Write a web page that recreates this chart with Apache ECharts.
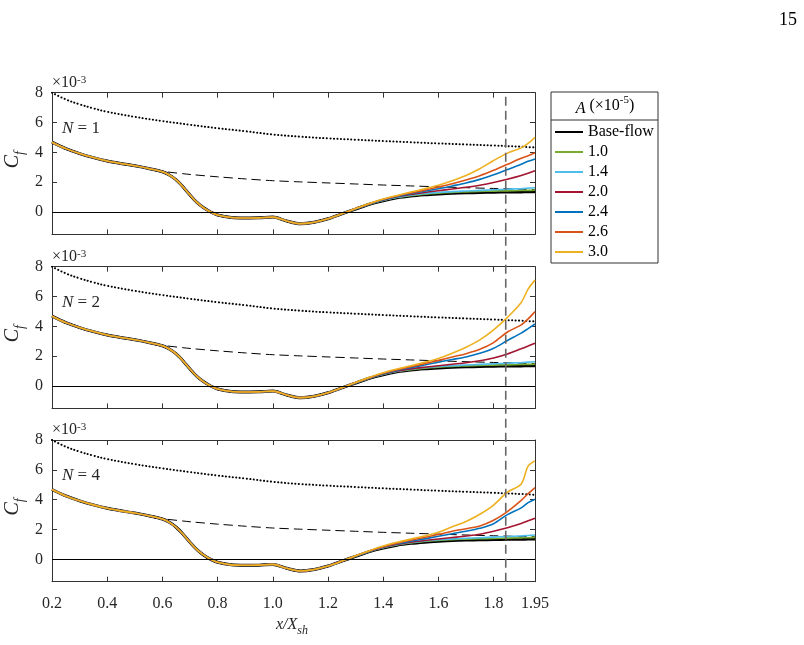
<!DOCTYPE html>
<html>
<head>
<meta charset="utf-8">
<script src="https://cdn.jsdelivr.net/npm/echarts@6/dist/echarts.min.js"></script>
<style>
  html, body { margin: 0; padding: 0; background: #fff; }
  #chart { width: 804px; height: 645px; }
</style>
</head>
<body>
<div id="chart"></div>
<script>
// solid curves: identical up to x = 1.25 for every amplitude
const headX = [0.2, 0.25, 0.3, 0.35, 0.4, 0.45, 0.5, 0.55, 0.6, 0.625, 0.65, 0.675, 0.7, 0.725, 0.75, 0.775, 0.8, 0.85, 0.9, 0.95, 1.0, 1.05, 1.1, 1.15, 1.2, 1.25];
const baseHead = [4.68, 4.25, 3.92, 3.65, 3.42, 3.25, 3.1, 2.92, 2.7, 2.48, 2.15, 1.68, 1.14, 0.65, 0.28, 0.0, -0.2, -0.37, -0.4, -0.39, -0.34, -0.6, -0.78, -0.68, -0.45, -0.12];

// tail where the curves split
const tailX = [1.3, 1.35, 1.4, 1.45, 1.5, 1.55, 1.6, 1.65, 1.7, 1.75, 1.8, 1.85, 1.9, 1.925, 1.95];
const baseTail = [0.2, 0.52, 0.76, 0.95, 1.07, 1.15, 1.21, 1.26, 1.29, 1.31, 1.33, 1.34, 1.35, 1.355, 1.36];
const a10Tail = [0.21, 0.53, 0.78, 0.97, 1.1, 1.2, 1.27, 1.32, 1.35, 1.38, 1.4, 1.42, 1.44, 1.45, 1.47];
const a14Tail = [0.21, 0.53, 0.79, 0.99, 1.13, 1.24, 1.31, 1.37, 1.41, 1.45, 1.49, 1.53, 1.57, 1.6, 1.63];

// N = 1
const n1A20 = [0.22, 0.54, 0.81, 1.02, 1.18, 1.31, 1.43, 1.54, 1.66, 1.8, 1.98, 2.2, 2.45, 2.6, 2.77];
const n1A24 = [0.22, 0.55, 0.83, 1.05, 1.23, 1.39, 1.56, 1.75, 1.95, 2.19, 2.5, 2.85, 3.2, 3.4, 3.56];
const n1A26 = [0.23, 0.56, 0.85, 1.08, 1.28, 1.47, 1.68, 1.9, 2.15, 2.44, 2.8, 3.2, 3.6, 3.78, 3.97];
const n1A30 = [0.23, 0.57, 0.87, 1.11, 1.34, 1.56, 1.8, 2.1, 2.45, 2.9, 3.45, 3.95, 4.3, 4.6, 5.0];
// N = 2
const n2A20 = [0.22, 0.54, 0.81, 1.01, 1.15, 1.26, 1.36, 1.46, 1.56, 1.7, 1.88, 2.15, 2.5, 2.68, 2.87];
const n2A24 = [0.22, 0.55, 0.83, 1.05, 1.23, 1.41, 1.6, 1.78, 1.95, 2.19, 2.53, 3.05, 3.55, 3.85, 4.16];
const n2A26 = [0.23, 0.56, 0.85, 1.09, 1.3, 1.5, 1.72, 1.95, 2.17, 2.46, 2.91, 3.62, 4.1, 4.5, 4.99];
const n2A30 = [0.24, 0.58, 0.89, 1.14, 1.36, 1.6, 1.85, 2.2, 2.6, 3.09, 3.76, 4.6, 5.6, 6.5, 7.1];
// N = 4
const n4A20 = [0.22, 0.54, 0.81, 1.01, 1.15, 1.26, 1.36, 1.46, 1.56, 1.68, 1.88, 2.12, 2.4, 2.58, 2.75];
const n4A24 = [0.22, 0.55, 0.83, 1.04, 1.21, 1.37, 1.55, 1.72, 1.88, 2.08, 2.39, 3.0, 3.45, 3.8, 4.03];
const n4A26 = [0.23, 0.56, 0.85, 1.08, 1.28, 1.47, 1.66, 1.88, 2.05, 2.24, 2.62, 3.2, 3.95, 4.4, 4.81];
const n4A30 = [0.24, 0.58, 0.89, 1.14, 1.36, 1.57, 1.82, 2.18, 2.53, 3.02, 3.64, 4.5, 5.05, 6.25, 6.6];

// turbulent (dotted) and laminar (dashed) correlations
const dottedX = [0.2, 0.25, 0.3, 0.35, 0.4, 0.5, 0.6, 0.7, 0.8, 0.9, 1.0, 1.1, 1.2, 1.3, 1.4, 1.5, 1.6, 1.7, 1.8, 1.9, 1.95];
const dottedY = [8.0, 7.55, 7.22, 6.95, 6.72, 6.38, 6.1, 5.85, 5.62, 5.42, 5.2, 5.05, 4.94, 4.85, 4.76, 4.68, 4.6, 4.53, 4.46, 4.38, 4.33];
const dashedX = [0.57, 0.6, 0.7, 0.8, 0.9, 1.0, 1.1, 1.2, 1.3, 1.4, 1.5, 1.6, 1.7, 1.8, 1.9, 1.95];
const dashedY = [2.78, 2.72, 2.52, 2.36, 2.22, 2.1, 2.02, 1.95, 1.88, 1.81, 1.75, 1.69, 1.63, 1.58, 1.53, 1.51];

const markerX = 1.844;
const xTicks = [0.2, 0.4, 0.6, 0.8, 1.0, 1.2, 1.4, 1.6, 1.8, 1.95];
const yTicks = [0, 2, 4, 6, 8];
const names = ['Base-flow', '1.0', '1.4', '2.0', '2.4', '2.6', '3.0'];
const colors = ['#000000', '#77AC30', '#4DBEEE', '#A2142F', '#0072BD', '#D95319', '#EDB120'];
const panelN = [1, 2, 4];
const panelTails = [
  [baseTail, a10Tail, a14Tail, n1A20, n1A24, n1A26, n1A30],
  [baseTail, a10Tail, a14Tail, n2A20, n2A24, n2A26, n2A30],
  [baseTail, a10Tail, a14Tail, n4A20, n4A24, n4A26, n4A30],
];

const FONT = '"Liberation Serif", "Times New Roman", serif';
const AX = '#333333';
const TXT = '#262626';
const tops = [92.7, 266.7, 440];
const H = 141.7, L = 52, W = 483;

const zip = (xs, ys) => xs.map((x, i) => [x, ys[i]]);

const chart = echarts.init(document.getElementById('chart'));

const grid = tops.map(t => ({ left: L, top: t, width: W, height: H, outerBoundsMode: 'none' }));
grid.push({ left: L, top: tops[0], width: W, height: tops[2] + H - tops[0], outerBoundsMode: 'none' });

const xAxis = [], yAxis = [], series = [], graphic = [];

tops.forEach((t, p) => {
  ['bottom', 'top'].forEach(pos => {
    xAxis.push({
      type: 'value', gridIndex: p, position: pos, min: 0.2, max: 1.95,
      axisLine: { show: true, onZero: false, lineStyle: { color: AX, width: 1 } },
      axisTick: { show: true, inside: true, length: 5, customValues: xTicks, lineStyle: { color: AX } },
      axisLabel: {
        show: pos === 'bottom' && p === 2, customValues: xTicks, margin: 14,
        fontSize: 16, fontFamily: FONT, color: TXT,
        formatter: v => (Math.abs(v - 1.95) < 1e-6 ? '1.95' : v.toFixed(1))
      },
      splitLine: { show: false }
    });
  });
  ['left', 'right'].forEach(pos => {
    yAxis.push({
      type: 'value', gridIndex: p, position: pos, min: -1.5, max: 8,
      axisLine: { show: true, onZero: false, lineStyle: { color: AX, width: 1 } },
      axisTick: { show: true, inside: true, length: 5, customValues: yTicks, lineStyle: { color: AX } },
      axisLabel: { show: pos === 'left', customValues: yTicks, margin: 9, fontSize: 16, fontFamily: FONT, color: TXT },
      splitLine: { show: false }
    });
  });

  const xi = 2 * p;
  series.push({
    type: 'line', name: 'turb', xAxisIndex: xi, yAxisIndex: xi, data: zip(dottedX, dottedY),
    symbol: 'none', smooth: 0.4, silent: true,
    lineStyle: { color: '#000', width: 2, type: [0.1, 3.4], cap: 'round' },
    markLine: {
      silent: true, symbol: 'none', label: { show: false },
      lineStyle: { color: '#000', width: 1, type: 'solid' },
      data: [{ yAxis: 0 }]
    }
  });
  series.push({
    type: 'line', name: 'lam', xAxisIndex: xi, yAxisIndex: xi, data: zip(dashedX, dashedY),
    symbol: 'none', smooth: 0.3, silent: true,
    lineStyle: { color: '#000', width: 1, type: [9, 5] }
  });
  panelTails[p].forEach((tail, k) => {
    series.push({
      type: 'line', name: names[k], xAxisIndex: xi, yAxisIndex: xi,
      data: zip(headX, baseHead).concat(zip(tailX, tail)),
      symbol: 'none', smooth: 0.3,
      lineStyle: { color: colors[k], width: k === 0 ? 3 : 1.6 },
      itemStyle: { color: colors[k] }
    });
  });

  // ×10^-3 multiplier
  graphic.push({
    type: 'text', x: 52, y: t - 10,
    style: {
      text: '×10{sup|-3}', fontSize: 16, fontFamily: FONT, fill: TXT,
      verticalAlign: 'middle', align: 'left',
      rich: {
        sup: { fontSize: 11, fontFamily: FONT, fill: TXT, lineHeight: 8, verticalAlign: 'top' }
      }
    }
  });
  // C_f axis title
  graphic.push({
    type: 'text', x: 15, y: t + 67, rotation: Math.PI / 2,
    style: {
      text: '{c|C}{s|f}', align: 'center', verticalAlign: 'middle',
      rich: {
        c: { fontSize: 20, fontStyle: 'italic', fontFamily: FONT, fill: TXT, lineHeight: 24, verticalAlign: 'top' },
        s: { fontSize: 14, fontStyle: 'italic', fontFamily: FONT, fill: TXT, lineHeight: 12, verticalAlign: 'bottom' }
      }
    }
  });
  // N label
  graphic.push({
    type: 'text', x: 62, y: t + 36,
    style: {
      text: '{i|N} = ' + panelN[p], fontSize: 17, fontFamily: FONT, fill: TXT,
      align: 'left', verticalAlign: 'middle',
      rich: { i: { fontSize: 17, fontStyle: 'italic', fontFamily: FONT, fill: TXT } }
    }
  });
});

// vertical marker across all three panels
xAxis.push({ type: 'value', gridIndex: 3, min: 0.2, max: 1.95, show: false });
yAxis.push({ type: 'value', gridIndex: 3, min: 0, max: 1, show: false });
series.push({
  type: 'line', name: 'marker', xAxisIndex: 6, yAxisIndex: 6, z: 5, silent: true,
  data: [[markerX, 0], [markerX, 1]], symbol: 'none',
  lineStyle: { color: '#666', width: 1.6, type: [9, 5] }
});

// legend frame and header
graphic.push({
  type: 'rect', shape: { x: 551, y: 92, width: 107, height: 171 },
  style: { fill: 'none', stroke: AX, lineWidth: 1 }
});
graphic.push({
  type: 'line', shape: { x1: 551, y1: 120, x2: 658, y2: 120 },
  style: { stroke: AX, lineWidth: 1 }
});
graphic.push({
  type: 'text', x: 605, y: 106,
  style: {
    text: '{i|A} (×10{sup|-5})', align: 'center', verticalAlign: 'middle',
    fontSize: 16, fontFamily: FONT, fill: '#000',
    rich: {
      i: { fontSize: 16, fontStyle: 'italic', fontFamily: FONT, fill: '#000', lineHeight: 22, verticalAlign: 'bottom' },
      sup: { fontSize: 11, fontFamily: FONT, fill: '#000', lineHeight: 8, verticalAlign: 'top' }
    }
  }
});
// x axis title
graphic.push({
  type: 'text', x: 292, y: 627,
  style: {
    text: '{m|x/X}{s|sh}', align: 'center', verticalAlign: 'middle',
    rich: {
      m: { fontSize: 16, fontStyle: 'italic', fontFamily: FONT, fill: TXT, lineHeight: 20, verticalAlign: 'top' },
      s: { fontSize: 12, fontStyle: 'italic', fontFamily: FONT, fill: TXT, lineHeight: 10, verticalAlign: 'bottom' }
    }
  }
});
// page number
graphic.push({
  type: 'text', x: 797, y: 20,
  style: { text: '15', align: 'right', verticalAlign: 'middle', fontSize: 18, fontFamily: FONT, fill: '#000' }
});

chart.setOption({
  animation: false,
  grid: grid,
  xAxis: xAxis,
  yAxis: yAxis,
  legend: {
    data: names, orient: 'vertical', left: 554, top: 122, padding: 0,
    itemGap: 0, itemWidth: 28, itemHeight: 2, selectedMode: false,
    itemStyle: { opacity: 0 },
    textStyle: { fontSize: 16, fontFamily: FONT, color: '#000', lineHeight: 20 }
  },
  series: series,
  graphic: graphic
});
</script>
</body>
</html>
